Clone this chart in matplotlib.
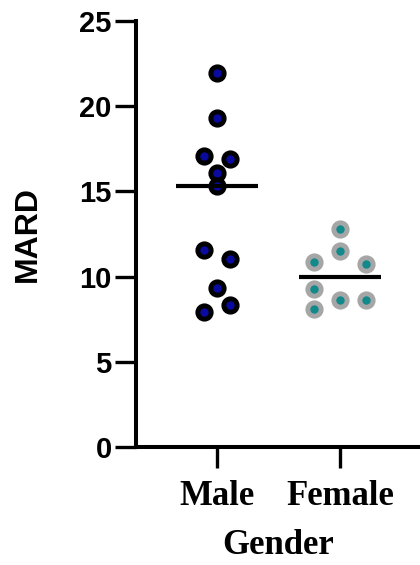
import matplotlib
matplotlib.use("Agg")
import matplotlib.pyplot as plt
import numpy as np

groups = ["Male", "Female"]
male = [21.95, 19.33, 17.10, 16.92, 16.10, 15.32, 11.58, 11.03, 9.35, 8.36, 7.95]
female = [12.78, 11.48, 10.86, 10.76, 9.25, 8.65, 8.65, 8.12]

# swarm column of each point (-1 left, 0 centre, +1 right)
male_cols = [0, 0, -1, 1, 0, 0, -1, 1, 0, 1, -1]
female_cols = [0, 0, -1, 1, -1, 0, 1, -1]

fig = plt.figure(figsize=(4.2, 5.65), dpi=100)
ax = fig.add_axes([0.324, 0.2088, 0.676, 0.754])

def swarm(i, vals, cols, step, face, edge):
    x = i + step * np.array(cols)
    ax.plot(x, vals, "o", ms=9.6, mfc=face, mec=edge, mew=3.5, zorder=3, clip_on=False)
    med = np.median(vals)
    ax.plot([i - 0.333, i + 0.333], [med, med], color="black", lw=3, solid_capstyle="butt", zorder=4)

swarm(0, male, male_cols, 0.105, "#0a0a9e", "black")
swarm(1, female, female_cols, 0.21, "#12898b", "#a6a6a6")

ax.set_xlim(-0.654, 1.649)
ax.set_ylim(0, 25)
ax.set_yticks([0, 5, 10, 15, 20, 25])
ax.set_xticks([0, 1])
ax.set_xticklabels(groups, fontfamily="Liberation Serif", fontweight="bold", fontsize=25)
for lab in ax.get_yticklabels():
    lab.set_fontfamily("Liberation Sans")
    lab.set_fontweight("bold")
    lab.set_fontsize(21)

for side in ["top", "right"]:
    ax.spines[side].set_visible(False)
for side in ["left", "bottom"]:
    ax.spines[side].set_linewidth(2.9)
ax.tick_params(axis="both", length=15, width=2.4)
ax.tick_params(axis="y", pad=2.5)
ax.tick_params(axis="x", pad=9)

ax.set_ylabel("MARD", fontfamily="Liberation Sans", fontweight="bold", fontsize=23, labelpad=26)
ax.set_xlabel("Gender", fontfamily="Liberation Serif", fontweight="bold", fontsize=25, labelpad=11)

fig.savefig("out.png", dpi=100)
